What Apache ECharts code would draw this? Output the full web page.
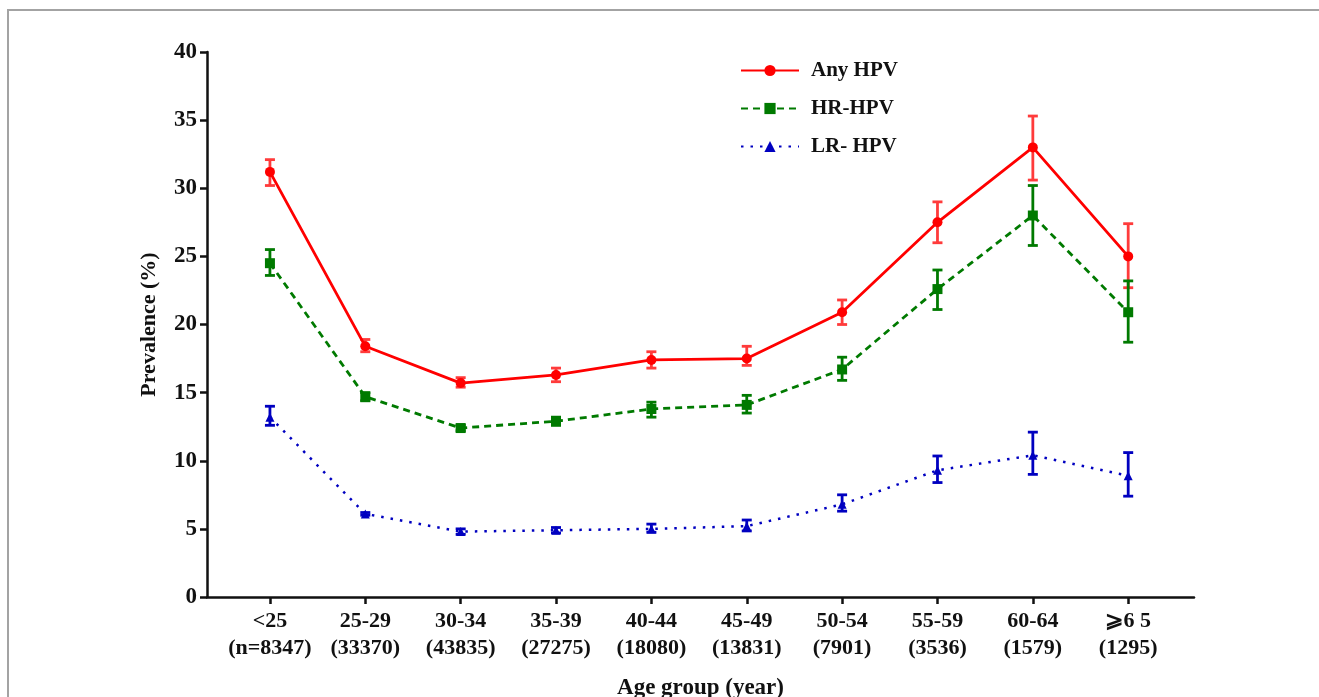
<!DOCTYPE html>
<html>
<head>
<meta charset="utf-8">
<script src="https://cdn.jsdelivr.net/npm/echarts@6/dist/echarts.min.js"></script>
<style>
	html, body { margin: 0; padding: 0; background: #fff; }
	#frame { position: absolute; left: 7px; top: 9px; width: 1320px; height: 700px; border-left: 2px solid #a3a3a3; border-top: 2px solid #a3a3a3; }
	#chart { position: absolute; left: 0; top: 0; width: 1319px; height: 697px; }
</style>
</head>
<body>
<div id="frame"></div>
<div id="chart"></div>
<script>
	// age groups (n per group)
	var categories = ['<25\n(n=8347)', '25-29\n(33370)', '30-34\n(43835)', '35-39\n(27275)', '40-44\n(18080)',
		'45-49\n(13831)', '50-54\n(7901)', '55-59\n(3536)', '60-64\n(1579)', '⩾6 5\n(1295)']

	var anyHpv     = [31.2, 18.4, 15.7, 16.3, 17.4, 17.5, 20.9, 27.5, 33.0, 25.0]
	var anyHpvLow  = [30.2, 18.0, 15.4, 15.8, 16.8, 17.0, 20.0, 26.0, 30.6, 22.7]
	var anyHpvHigh = [32.1, 18.9, 16.1, 16.8, 18.0, 18.4, 21.8, 29.0, 35.3, 27.4]

	var hrHpv      = [24.5, 14.7, 12.4, 12.9, 13.8, 14.1, 16.7, 22.6, 28.0, 20.9]
	var hrHpvLow   = [23.6, 14.4, 12.2, 12.6, 13.2, 13.5, 15.9, 21.1, 25.8, 18.7]
	var hrHpvHigh  = [25.5, 15.0, 12.6, 13.2, 14.3, 14.8, 17.6, 24.0, 30.2, 23.2]

	var lrHpv      = [13.2, 6.1, 4.8, 4.9, 5.0, 5.2, 6.8, 9.3, 10.4, 8.9]
	var lrHpvLow   = [12.6, 6.0, 4.6, 4.7, 4.75, 4.85, 6.3, 8.4, 9.0, 7.4]
	var lrHpvHigh  = [14.0, 6.2, 5.0, 5.1, 5.35, 5.65, 7.5, 10.35, 12.1, 10.6]

	var yTicks = [0, 5, 10, 15, 20, 25, 30, 35, 40]

	var font = 'Liberation Serif'
	var red = '#ff0000', green = '#007a00', blue = '#0000c0'

	function points(values){
		return values.map(function(v, i){ return [i, v] })
	}
	function ranges(low, high){
		return low.map(function(v, i){ return [i, v, high[i]] })
	}

	function errorBars(color){
		return function(params, api){
			var x = api.value(0)
			var top = api.coord([x, api.value(2)])
			var bottom = api.coord([x, api.value(1)])
			var half = 5
			var style = { stroke: color, lineWidth: 2.8 }
			return {
				type: 'group',
				children: [
					{ type: 'line', shape: { x1: top[0], y1: top[1], x2: bottom[0], y2: bottom[1] }, style: style },
					{ type: 'line', shape: { x1: top[0] - half, y1: top[1], x2: top[0] + half, y2: top[1] }, style: style },
					{ type: 'line', shape: { x1: bottom[0] - half, y1: bottom[1], x2: bottom[0] + half, y2: bottom[1] }, style: style }
				]
			}
		}
	}

	function lineSeries(name, values, color, symbol, size, type, width){
		return {
			name: name,
			type: 'line',
			data: points(values),
			symbol: symbol,
			symbolSize: size,
			itemStyle: { color: color },
			lineStyle: { color: color, width: width, type: type },
			z: 3,
			animation: false
		}
	}

	function errSeries(low, high, color){
		return {
			type: 'custom',
			data: ranges(low, high),
			renderItem: errorBars(color),
			encode: { x: 0, y: [1, 2] },
			z: 2,
			silent: true,
			animation: false
		}
	}

	var chart = echarts.init(document.getElementById('chart'))

	chart.setOption({
		animation: false,
		grid: { left: 207, right: 125, top: 52, bottom: 100, outerBoundsMode: 'none', containLabel: false },
		legend: {
			orient: 'vertical',
			left: 735,
			top: 55,
			itemWidth: 58,
			itemHeight: 14,
			itemGap: 17,
			data: ['Any HPV', 'HR-HPV', 'LR- HPV'],
			textStyle: { fontFamily: font, fontWeight: 'bold', fontSize: 21, color: '#111', padding: [0, 0, 0, 7] }
		},
		xAxis: {
			type: 'value',
			min: -0.66,
			max: 9.69,
			name: 'Age group (year)',
			nameLocation: 'middle',
			nameGap: 80,
			nameTextStyle: { fontFamily: font, fontWeight: 'bold', fontSize: 23, color: '#111' },
			splitLine: { show: false },
			axisLine: { onZero: false, lineStyle: { color: '#111', width: 2.5 } },
			axisTick: { customValues: categories.map(function(c, i){ return i }), length: 7, lineStyle: { color: '#111', width: 2.5 } },
			axisLabel: {
				customValues: categories.map(function(c, i){ return i }),
				formatter: function(v){ return categories[Math.round(v)] },
				margin: 11,
				lineHeight: 27,
				fontFamily: font, fontWeight: 'bold', fontSize: 22, color: '#111'
			}
		},
		yAxis: {
			type: 'value',
			min: 0,
			max: 40,
			interval: 5,
			name: 'Prevalence (%)',
			nameLocation: 'middle',
			nameGap: 47,
			nameTextStyle: { fontFamily: font, fontWeight: 'bold', fontSize: 22, color: '#111' },
			splitLine: { show: false },
			axisLine: { show: true, onZero: false, lineStyle: { color: '#111', width: 2.5 } },
			axisTick: { show: true, length: 7, lineStyle: { color: '#111', width: 2.5 } },
			axisLabel: {
				margin: 10,
				formatter: function(v){ return yTicks.indexOf(v) >= 0 ? String(v) : '' },
				fontFamily: font, fontWeight: 'bold', fontSize: 23, color: '#111'
			}
		},
		series: [
			errSeries(anyHpvLow, anyHpvHigh, '#ff3b3b'),
			errSeries(hrHpvLow, hrHpvHigh, green),
			errSeries(lrHpvLow, lrHpvHigh, blue),
			lineSeries('Any HPV', anyHpv, red, 'circle', 10, 'solid', 2.8),
			lineSeries('HR-HPV', hrHpv, green, 'rect', 10, [7, 5], 2.8),
			lineSeries('LR- HPV', lrHpv, blue, 'triangle', 9, [2.5, 7], 2.5)
		]
	})
</script>
</body>
</html>
